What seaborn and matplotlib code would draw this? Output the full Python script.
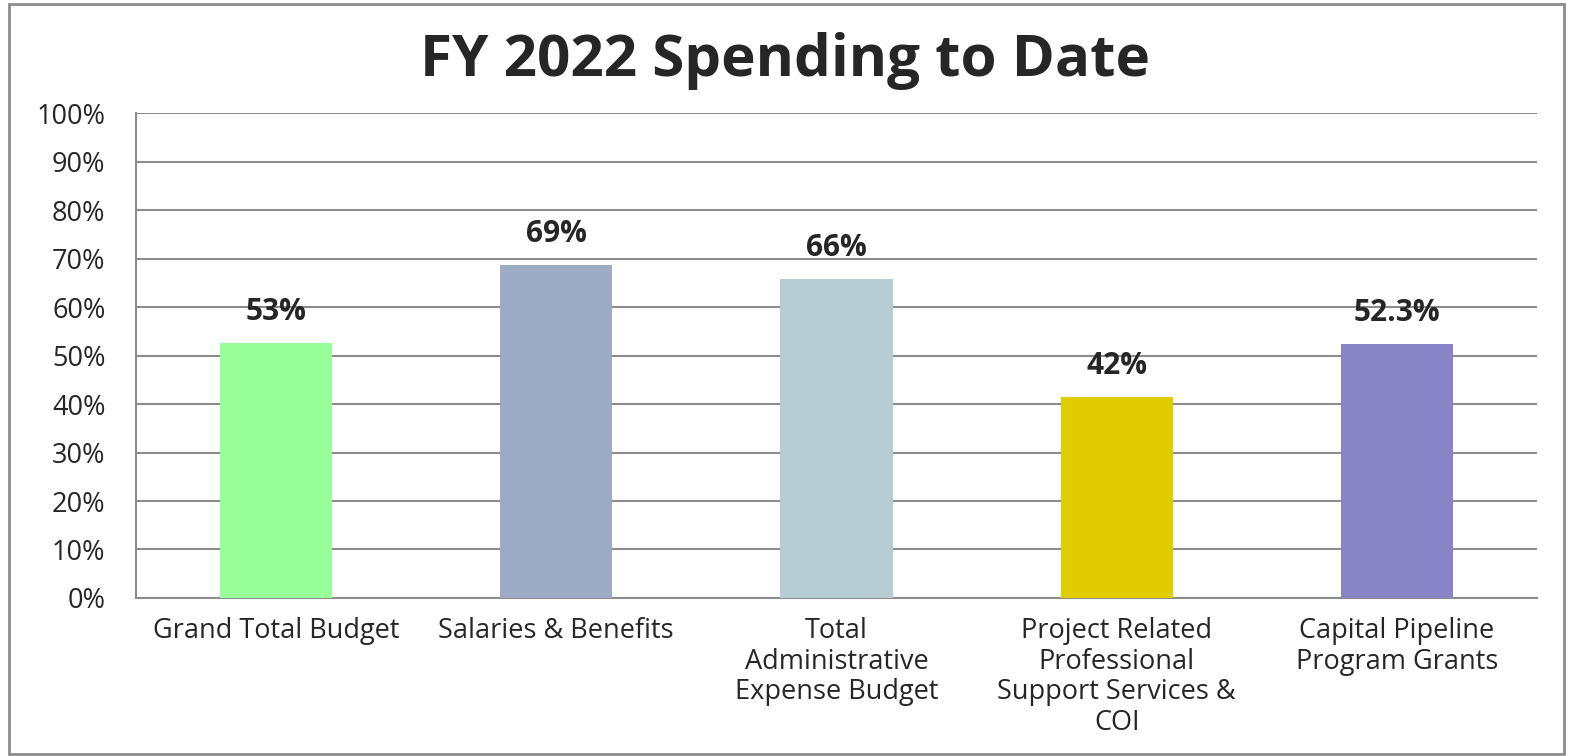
import pandas as pd
import numpy as np
import seaborn as sns
import matplotlib.pyplot as plt
from matplotlib.patches import Rectangle

# Data
categories = ['Grand Total Budget', 'Salaries & Benefits',
              'Total\nAdministrative\nExpense Budget',
              'Project Related\nProfessional\nSupport Services &\nCOI',
              'Capital Pipeline\nProgram Grants']
values = [52.6, 68.7, 65.8, 41.4, 52.4]
labels = ['53%', '69%', '66%', '42%', '52.3%']
colors = ['#99FF99', '#9DABC5', '#B6CDD4', '#E0CC00', '#8884C6']

df = pd.DataFrame({'category': categories, 'value': values})

sns.set_style('white')
plt.rcParams['font.family'] = ['Open Sans', 'DejaVu Sans']

fig = plt.figure(figsize=(15.7, 7.56), dpi=100)
ax = fig.add_axes([0.0866, 0.209, 0.8924, 0.6415])

sns.barplot(data=df, x='category', y='value', hue='category', palette=colors,
            width=0.4, saturation=1, linewidth=0, legend=False, ax=ax, zorder=3)

ax.set_ylim(0, 100)
ax.set_yticks(np.arange(0, 101, 10))
ax.set_yticklabels([f'{t}%' for t in range(0, 101, 10)], fontsize=19.5)
ax.set_xlim(-0.5, 4.5)
ax.set_xlabel('')
ax.set_ylabel('')
ax.tick_params(axis='x', labelsize=19.5, length=0, pad=14)
ax.tick_params(axis='y', length=0, pad=22)
for t in ax.get_xticklabels():
    t.set_linespacing(1.12)
ax.grid(axis='y', color='#8C8C8C', linewidth=1.5, zorder=0)
ax.set_axisbelow(True)

for s in ['top', 'right']:
    ax.spines[s].set_visible(False)
for s in ['left', 'bottom']:
    ax.spines[s].set_color('#8C8C8C')
    ax.spines[s].set_linewidth(1.5)

for i, (v, lab) in enumerate(zip(values, labels)):
    ax.text(i, v + 3.3, lab, ha='center', va='bottom', fontsize=21.5, fontweight='bold')

fig.suptitle('FY 2022 Spending to Date', fontsize=42, fontweight='bold', y=0.958)

# outer border
fig.patches.append(Rectangle((0.006, 0.002), 0.99, 0.993, transform=fig.transFigure,
                             fill=False, edgecolor='#8C8C8C', linewidth=2))

plt.savefig('out.png', dpi=100)
plt.close()
